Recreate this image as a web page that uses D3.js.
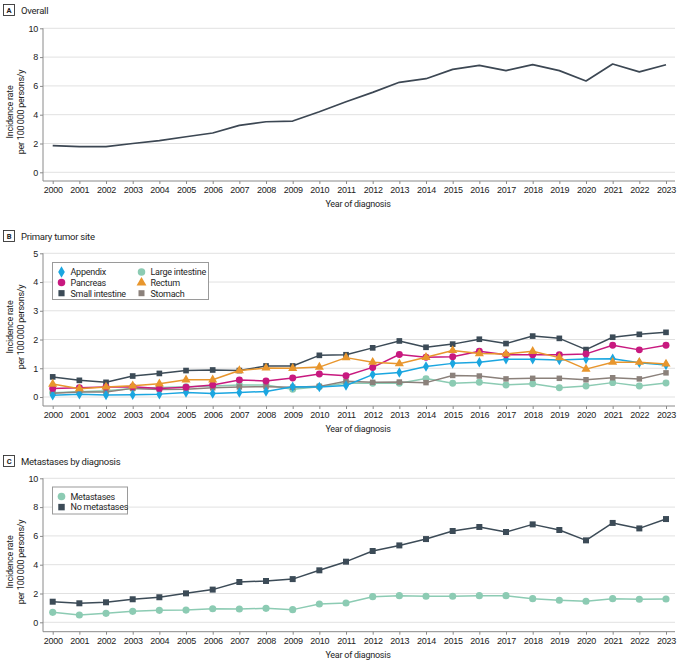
<!DOCTYPE html>
<html>
<head>
<meta charset="utf-8">
<script src="https://cdn.jsdelivr.net/npm/d3@7"></script>
<style>
  body { margin: 0; background: #fff; }
  svg { display: block; font-family: "Roboto", "Liberation Sans", sans-serif; letter-spacing: -0.25px; }
  .grid line { stroke: #e1e1e1; stroke-width: 1; }
  .axis path, .axis line { stroke: #8a8a8a; }
  .axis text { fill: #222; font-size: 9px; }
  .label { fill: #1e1e1e; font-size: 9px; }
  .title { fill: #1e1e1e; font-size: 9.5px; }
  .legend text { fill: #1e1e1e; font-size: 9px; }
</style>
</head>
<body>
<div id="chart"></div>
<script>
var years = [2000, 2001, 2002, 2003, 2004, 2005, 2006, 2007, 2008, 2009, 2010, 2011,
             2012, 2013, 2014, 2015, 2016, 2017, 2018, 2019, 2020, 2021, 2022, 2023];

// Panel A
var overall = [1.85, 1.78, 1.78, 2.0, 2.2, 2.47, 2.73, 3.26, 3.51, 3.56, 4.2, 4.9,
               5.55, 6.25, 6.5, 7.15, 7.42, 7.06, 7.48, 7.06, 6.34, 7.52, 6.97, 7.47];

// Panel B
var siteNames = ["Appendix", "Pancreas", "Small intestine", "Large intestine", "Rectum", "Stomach"];
var appendix = [0.06, 0.1, 0.07, 0.08, 0.1, 0.16, 0.12, 0.16, 0.19, 0.36, 0.35, 0.4,
                0.78, 0.85, 1.06, 1.17, 1.21, 1.31, 1.31, 1.29, 1.32, 1.33, 1.19, 1.11];
var pancreas = [0.3, 0.32, 0.35, 0.36, 0.3, 0.34, 0.42, 0.59, 0.56, 0.66, 0.8, 0.74,
                1.03, 1.48, 1.38, 1.4, 1.59, 1.47, 1.47, 1.47, 1.5, 1.8, 1.64, 1.8];
var smallIntestine = [0.7, 0.58, 0.51, 0.73, 0.82, 0.92, 0.94, 0.92, 1.08, 1.08, 1.45, 1.47,
                      1.71, 1.95, 1.73, 1.84, 2.01, 1.86, 2.12, 2.04, 1.65, 2.08, 2.18, 2.25];
var largeIntestine = [0.15, 0.18, 0.22, 0.3, 0.33, 0.36, 0.38, 0.42, 0.42, 0.27, 0.36, 0.48,
                      0.48, 0.48, 0.64, 0.48, 0.51, 0.42, 0.46, 0.32, 0.38, 0.5, 0.38, 0.49];
var rectum = [0.45, 0.29, 0.35, 0.39, 0.46, 0.6, 0.6, 0.92, 1.01, 1.0, 1.04, 1.37,
              1.21, 1.16, 1.38, 1.62, 1.51, 1.5, 1.59, 1.37, 0.97, 1.21, 1.21, 1.15];
var stomach = [0.13, 0.17, 0.17, 0.3, 0.26, 0.27, 0.32, 0.35, 0.36, 0.34, 0.37, 0.55,
               0.51, 0.52, 0.5, 0.75, 0.73, 0.63, 0.65, 0.65, 0.6, 0.67, 0.63, 0.84];

// Panel C
var metNames = ["Metastases", "No metastases"];
var metastases = [0.69, 0.51, 0.62, 0.76, 0.83, 0.85, 0.94, 0.92, 0.97, 0.88, 1.27, 1.34,
                  1.78, 1.85, 1.81, 1.81, 1.85, 1.85, 1.64, 1.53, 1.46, 1.64, 1.6, 1.62];
var noMetastases = [1.43, 1.32, 1.39, 1.6, 1.74, 2.01, 2.27, 2.8, 2.87, 3.0, 3.61, 4.21,
                    4.95, 5.34, 5.78, 6.34, 6.62, 6.27, 6.8, 6.41, 5.69, 6.9, 6.52, 7.17];

var ticksA = [0, 2, 4, 6, 8, 10];
var ticksB = [0, 1, 2, 3, 4, 5];

var colors = {
  "Appendix": "#1ba6e0",
  "Pancreas": "#c8197f",
  "Small intestine": "#3c4b57",
  "Large intestine": "#8ccbb3",
  "Rectum": "#e8962d",
  "Stomach": "#8b817b",
  "Metastases": "#8ccbb3",
  "No metastases": "#3c4b57"
};
var shapes = {
  "Appendix": d3.symbolDiamond,
  "Pancreas": d3.symbolCircle,
  "Small intestine": d3.symbolSquare,
  "Large intestine": d3.symbolCircle,
  "Rectum": d3.symbolTriangle,
  "Stomach": d3.symbolSquare,
  "Metastases": d3.symbolCircle,
  "No metastases": d3.symbolSquare
};
var sizes = {
  "Appendix": 32, "Pancreas": 38, "Small intestine": 32, "Large intestine": 38,
  "Rectum": 36, "Stomach": 30, "Metastases": 40, "No metastases": 36
};

var W = 680, H = 663;
var svg = d3.select("#chart").append("svg")
  .attr("width", W)
  .attr("height", H);

var x = d3.scaleLinear()
  .domain([2000, 2023])
  .range([52.7, 666]);

var axisLeftX = 43, axisRightX = 675;

function drawPanel(p) {
  var g = svg.append("g");

  // Panel letter and title
  g.append("rect")
    .attr("x", 3.5).attr("y", p.labelY - 5.5)
    .attr("width", 11).attr("height", 11)
    .attr("fill", "#fff").attr("stroke", "#333").attr("stroke-width", 0.9);
  g.append("text")
    .attr("x", 9).attr("y", p.labelY + 3)
    .attr("text-anchor", "middle")
    .attr("font-size", "7.5px").attr("font-weight", "bold").attr("fill", "#222")
    .text(p.letter);
  g.append("text")
    .attr("class", "title")
    .attr("x", 21).attr("y", p.labelY + 3.5)
    .text(p.title);

  var y = d3.scaleLinear().domain(p.domain).range(p.range);

  // Gridlines
  g.append("g").attr("class", "grid")
    .selectAll("line")
    .data(p.ticks)
    .enter().append("line")
    .attr("x1", axisLeftX).attr("x2", axisRightX)
    .attr("y1", function(d){ return y(d); })
    .attr("y2", function(d){ return y(d); });

  // Y axis
  var yAxis = g.append("g")
    .attr("class", "axis axis--y")
    .attr("transform", "translate(" + axisLeftX + ",0)")
    .call(d3.axisLeft(y).tickValues(p.ticks).tickFormat(d3.format("d")).tickSize(3).tickPadding(2).tickSizeOuter(0));
  yAxis.select(".domain").remove();
  yAxis.append("line")
    .attr("x1", 0).attr("x2", 0)
    .attr("y1", y(p.domain[1])).attr("y2", p.bottom)
    .attr("stroke", "#8a8a8a");

  // X axis
  var xAxis = g.append("g")
    .attr("class", "axis axis--x")
    .attr("transform", "translate(0," + p.bottom + ")")
    .call(d3.axisBottom(x).tickValues(years).tickFormat(d3.format("d")).tickSize(3).tickPadding(2.5));
  xAxis.select(".domain").remove();
  xAxis.append("line")
    .attr("x1", axisLeftX).attr("x2", axisRightX)
    .attr("stroke", "#8a8a8a");

  // Axis labels
  g.append("text")
    .attr("class", "label")
    .attr("text-anchor", "middle")
    .attr("x", 358).attr("y", p.bottom + 26)
    .text("Year of diagnosis");

  var yt = g.append("text")
    .attr("class", "label")
    .attr("text-anchor", "middle")
    .attr("transform", "translate(13," + p.yTitle + ")rotate(-90)");
  yt.append("tspan").attr("x", 0).attr("dy", 0).text("Incidence rate");
  yt.append("tspan").attr("x", 0).attr("dy", 11).text("per 100\u2009000 persons/y");

  var line = d3.line()
    .x(function(d, i){ return x(years[i]); })
    .y(function(d){ return y(d); });

  p.series.forEach(function(s) {
    g.append("path")
      .datum(s.values)
      .attr("fill", "none")
      .attr("stroke", s.color)
      .attr("stroke-width", s.width)
      .attr("stroke-linejoin", "round")
      .attr("d", line);

    if (s.name) {
      g.append("g")
        .selectAll("path")
        .data(s.values)
        .enter().append("path")
        .attr("transform", function(d, i){ return "translate(" + x(years[i]) + "," + y(d) + ")"; })
        .attr("d", d3.symbol().type(shapes[s.name]).size(sizes[s.name]))
        .attr("fill", s.color);
    }
  });

  // Legend
  if (p.legend) {
    var lg = g.append("g").attr("class", "legend");
    lg.append("rect")
      .attr("x", p.legend.x).attr("y", p.legend.y)
      .attr("width", p.legend.w).attr("height", p.legend.h)
      .attr("fill", "#fff").attr("stroke", "#9a9a9a").attr("stroke-width", 1);
    p.legend.names.forEach(function(name, i) {
      var col = Math.floor(i / p.legend.rows);
      var row = i % p.legend.rows;
      var cx = p.legend.x + 9 + col * 80;
      var cy = p.legend.y + 9.5 + row * 10.6;
      lg.append("path")
        .attr("transform", "translate(" + cx + "," + cy + ")")
        .attr("d", d3.symbol().type(shapes[name]).size(sizes[name] + 6))
        .attr("fill", colors[name]);
      lg.append("text")
        .attr("x", cx + 9).attr("y", cy + 3.3)
        .text(name);
    });
  }
}

drawPanel({
  letter: "A", title: "Overall", labelY: 10,
  domain: [0, 10], range: [172.3, 28.3], ticks: ticksA, bottom: 181, yTitle: 112,
  series: [{ values: overall, color: "#3c4753", width: 1.7 }]
});

drawPanel({
  letter: "B", title: "Primary tumor site", labelY: 236,
  domain: [0, 5], range: [397, 253.3], ticks: ticksB, bottom: 406, yTitle: 327,
  series: [
    { name: "Small intestine", values: smallIntestine, color: colors["Small intestine"], width: 1.5 },
    { name: "Large intestine", values: largeIntestine, color: colors["Large intestine"], width: 1.5 },
    { name: "Stomach", values: stomach, color: colors["Stomach"], width: 1.5 },
    { name: "Appendix", values: appendix, color: colors["Appendix"], width: 1.5 },
    { name: "Pancreas", values: pancreas, color: colors["Pancreas"], width: 1.5 },
    { name: "Rectum", values: rectum, color: colors["Rectum"], width: 1.5 }
  ],
  legend: { x: 52.5, y: 262.5, w: 156, h: 37, rows: 3, names: siteNames }
});

drawPanel({
  letter: "C", title: "Metastases by diagnosis", labelY: 461,
  domain: [0, 10], range: [622.3, 478.3], ticks: ticksA, bottom: 631.7, yTitle: 562,
  series: [
    { name: "Metastases", values: metastases, color: colors["Metastases"], width: 1.5 },
    { name: "No metastases", values: noMetastases, color: colors["No metastases"], width: 1.5 }
  ],
  legend: { x: 52.5, y: 487, w: 75, h: 27, rows: 2, names: metNames }
});
</script>
</body>
</html>
